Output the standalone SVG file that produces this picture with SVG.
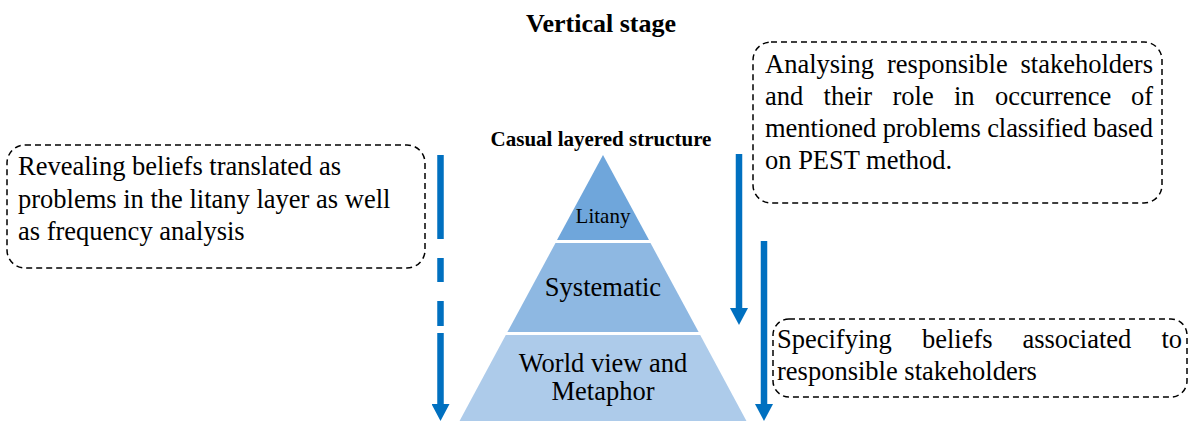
<svg xmlns="http://www.w3.org/2000/svg" width="1197" height="421" viewBox="0 0 1197 421">
<style>
.t{font-family:"Liberation Serif","Times New Roman",serif;font-size:26.5px;fill:#000}
.b{font-weight:bold}
.box{fill:none;stroke:#000;stroke-width:1.5;stroke-dasharray:6 4}
.arr{stroke:#0070C0;stroke-width:6.5;fill:none}
</style>
<defs>
<marker id="ah" markerUnits="userSpaceOnUse" markerWidth="18" markerHeight="18" viewBox="0 0 18 18" refX="0" refY="9" orient="auto">
<path d="M0,0 L17,9 L0,18 z" fill="#0070C0"/>
</marker>
</defs>
<rect width="1197" height="421" fill="#fff"/>
<text class="t b" x="601" y="32" text-anchor="middle" style="font-size:26px">Vertical stage</text>
<g id="pyramid">
<text class="t b" x="601" y="146" text-anchor="middle" style="font-size:21px">Casual layered structure</text>
<g id="litany">
<polygon points="603,155 649,240 557,240" fill="#6FA6DB"/>
<text class="t" x="603" y="223" text-anchor="middle" style="font-size:21px">Litany</text>
</g>
<g id="systematic">
<polygon points="555.5,243 650.5,243 698.6,332 507.4,332" fill="#8EB8E2"/>
<text class="t" x="603" y="296" text-anchor="middle">Systematic</text>
</g>
<g id="worldview">
<polygon points="505.8,335 700.2,335 747,422 459,422" fill="#ADCBEA"/>
<text class="t" x="603" y="372" text-anchor="middle">World view and</text>
<text class="t" x="603" y="400" text-anchor="middle">Metaphor</text>
</g>
</g>
<g id="box-left">
<rect class="box" x="7" y="145" width="418" height="123" rx="18"/>
<text class="t" x="18" y="175">Revealing beliefs translated as</text>
<text class="t" x="18" y="207.5">problems in the litany layer as well</text>
<text class="t" x="18" y="240">as frequency analysis</text>
</g>
<g id="box-top-right">
<rect class="box" x="753" y="42" width="409" height="161" rx="18"/>
<text class="t" x="765" y="73">Analysing</text>
<text class="t" x="887" y="73">responsible</text>
<text class="t" x="1153" y="73" text-anchor="end">stakeholders</text>
<text class="t" x="765" y="105">and</text>
<text class="t" x="823.6" y="105">their</text>
<text class="t" x="892.5" y="105">role</text>
<text class="t" x="954" y="105">in</text>
<text class="t" x="995" y="105">occurrence</text>
<text class="t" x="1153" y="105" text-anchor="end">of</text>
<text class="t" x="765" y="137" textLength="388" lengthAdjust="spacing">mentioned problems classified based</text>
<text class="t" x="765" y="169">on PEST method.</text>
</g>
<g id="box-bottom-right">
<rect class="box" x="773" y="319" width="414" height="78" rx="16"/>
<text class="t" x="777" y="348">Specifying</text>
<text class="t" x="922" y="348">beliefs</text>
<text class="t" x="1022.4" y="348">associated</text>
<text class="t" x="1182" y="348" text-anchor="end">to</text>
<text class="t" x="777" y="380">responsible stakeholders</text>
</g>
<g id="connectors">
<path class="arr" d="M440.5,155 V239 M440.5,258 V282 M440.5,301 V326 M440.5,333 V404" marker-end="url(#ah)"/>
<path class="arr" d="M739,154 V308" marker-end="url(#ah)"/>
<path class="arr" d="M764,241 V404" marker-end="url(#ah)"/>
</g>
</svg>
